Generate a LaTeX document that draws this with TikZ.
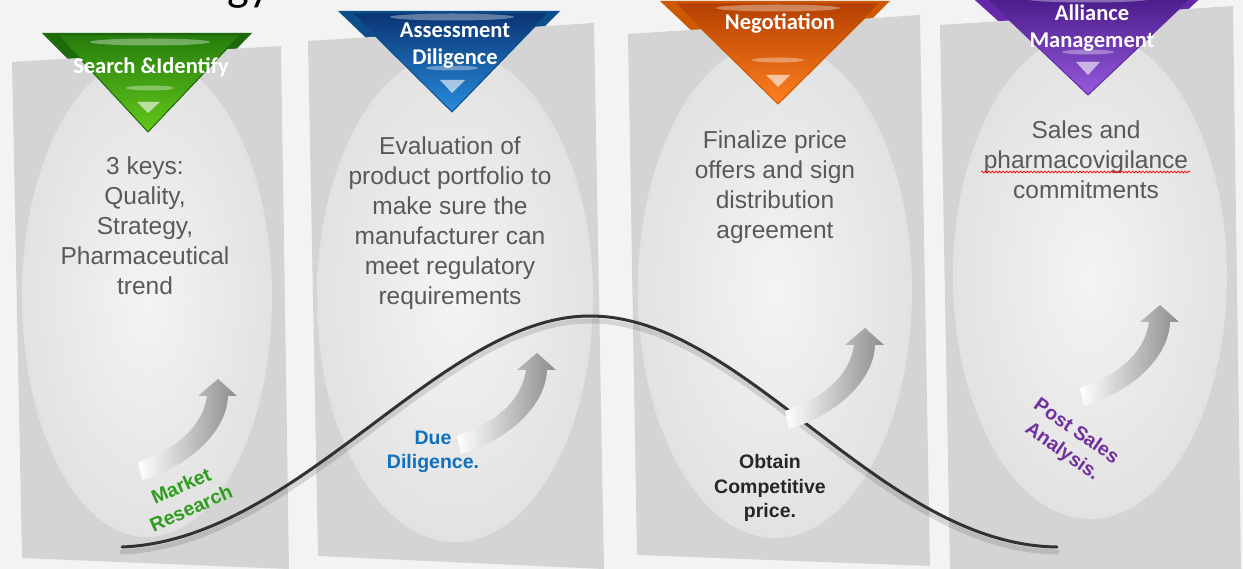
\documentclass[tikz,border=0pt]{standalone}
\usepackage{fontspec}
\setmainfont{Liberation Sans}
\newfontfamily\calib{Carlito}
\usetikzlibrary{decorations.pathmorphing}
\definecolor{bg}{RGB}{243,243,243}
\definecolor{panelc}{RGB}{212,212,212}
\definecolor{ellin}{RGB}{244,244,244}
\definecolor{ellout}{RGB}{226,226,226}
\definecolor{bodytxt}{RGB}{89,89,89}
\definecolor{gWing}{RGB}{30,105,10}
\definecolor{gTop}{RGB}{38,125,12}
\definecolor{gBot}{RGB}{100,200,28}
\definecolor{bWing}{RGB}{12,78,140}
\definecolor{bTop}{RGB}{10,52,115}
\definecolor{bBot}{RGB}{40,140,220}
\definecolor{oWing}{RGB}{205,88,0}
\definecolor{oTop}{RGB}{180,64,0}
\definecolor{oBot}{RGB}{255,128,30}
\definecolor{pWing}{RGB}{100,40,170}
\definecolor{pTop}{RGB}{72,26,135}
\definecolor{pBot}{RGB}{150,90,220}
\definecolor{lgreen}{RGB}{46,158,30}
\definecolor{lblue}{RGB}{16,112,192}
\definecolor{ldark}{RGB}{38,38,38}
\definecolor{lpurple}{RGB}{112,48,160}
\definecolor{curvec}{RGB}{50,50,50}
\tikzset{
  panelbox/.style={fill=panelc},
  ellbox/.style={inner color=ellin, outer color=ellout},
  bodytext/.style={text=bodytxt, align=center, inner sep=0pt, font=\fontsize{24.5}{30}\selectfont},
  headtext/.style={text=white, align=center, inner sep=0pt, font=\calib\bfseries\fontsize{22.5}{27}\selectfont},
  steplabel/.style={align=center, inner sep=0pt, font=\bfseries\fontsize{19.5}{24.5}\selectfont},
  hilite/.style={fill=white, opacity=0.35},
  smalltri/.style={fill=white, opacity=0.6},
  curvarrow/.pic={
    \shade[left color=white, right color=black!45]
      (-2,-9) .. controls (30,-20) and (62,-40) .. (67,-75) -- (58,-75) -- (78,-92)
      -- (97,-75) -- (88,-75) .. controls (87,-40) and (50,-5) .. (2,9) -- cycle;
  }
}
\begin{document}
\begin{tikzpicture}[x=1pt,y=-1pt]
\useasboundingbox (0,0) rectangle (1243,569);
\fill[bg] (0,0) rectangle (1243,569);

% fragment of a title above the frame
\begin{scope}
\clip (0,0) rectangle (1243,569);
\node[anchor=base, inner sep=0pt, font=\calib\fontsize{46}{46}\selectfont] (title) at (249,1) {gy};
\end{scope}

% back wings of the ribbons
\fill[gWing] (42,33) -- (252,33) -- (148,140) -- cycle;
\fill[bWing] (338,11) -- (560,11) -- (452,120) -- cycle;
\fill[oWing] (660,1) -- (890,1) -- (778,112) -- cycle;
\fill[pWing] (966,-8) -- (1207,-8) -- (1088,102) -- cycle;

% panels
\fill[panelbox] (12,62) -- (281,46) -- (289,569) -- (22,558) -- cycle;
\fill[panelbox] (308,41) -- (594,23) -- (604,569) -- (318,556) -- cycle;
\fill[panelbox] (628,34) -- (920,15) -- (930,566) -- (637,555) -- cycle;
\fill[panelbox] (940,25) -- (1233,6) -- (1241,569) -- (950,569) -- cycle;

% ellipses
\begin{scope}
\clip (12,62) -- (281,46) -- (289,569) -- (22,558) -- cycle;
\shade[ellbox] (147,297) ellipse [x radius=125pt, y radius=240pt];
\end{scope}
\begin{scope}
\clip (308,41) -- (594,23) -- (604,569) -- (318,556) -- cycle;
\shade[ellbox] (455,297) ellipse [x radius=138pt, y radius=245pt];
\end{scope}
\begin{scope}
\clip (628,34) -- (920,15) -- (930,566) -- (637,555) -- cycle;
\shade[ellbox] (775,290) ellipse [x radius=137pt, y radius=248pt];
\end{scope}
\begin{scope}
\clip (940,25) -- (1233,6) -- (1241,569) -- (950,569) -- cycle;
\shade[ellbox] (1090,276) ellipse [x radius=137pt, y radius=243pt];
\end{scope}

% front faces of the ribbons
\shade[top color=gTop, bottom color=gBot, draw=gWing, line width=1pt] (58,35) -- (240,35) -- (148,132) -- cycle;
\fill[hilite] (150,42) ellipse [x radius=60pt, y radius=3.5pt];
\fill[hilite] (150,88) ellipse [x radius=24pt, y radius=2.5pt];
\fill[smalltri] (137,102) -- (160,102) -- (148,113) -- cycle;

\shade[top color=bTop, bottom color=bBot, draw=bWing, line width=1pt] (352,13) -- (548,13) -- (452,112) -- cycle;
\fill[hilite] (452,17) ellipse [x radius=62pt, y radius=3.5pt];
\fill[hilite] (452,68) ellipse [x radius=26pt, y radius=2.5pt];
\fill[smalltri] (440,80) -- (465,80) -- (452,93) -- cycle;

\shade[top color=oTop, bottom color=oBot, draw=oWing, line width=1pt] (675,3) -- (880,3) -- (778,104) -- cycle;
\fill[hilite] (778,8) ellipse [x radius=62pt, y radius=3.5pt];
\fill[hilite] (778,60) ellipse [x radius=26pt, y radius=2.5pt];
\fill[smalltri] (766,75) -- (790,75) -- (778,87) -- cycle;

\shade[top color=pTop, bottom color=pBot, draw=pWing, line width=1pt] (982,-6) -- (1195,-6) -- (1088,95) -- cycle;
\fill[hilite] (1088,-1) ellipse [x radius=62pt, y radius=3.5pt];
\fill[hilite] (1088,52) ellipse [x radius=26pt, y radius=2.5pt];
\fill[smalltri] (1076,62) -- (1100,62) -- (1088,75) -- cycle;

% header labels
\node[headtext] (h1) at (151,67) {Search \&Identify};
\node[headtext] (h2) at (455,46) {Assessment\\Diligence};
\node[headtext] (h3) at (780,23) {Negotiation};
\node[headtext] (h4) at (1092,28) {Alliance\\Management};

% body texts
\node[bodytext] (b1) at (145,226) {3 keys:\\Quality,\\Strategy,\\Pharmaceutical\\trend};
\node[bodytext] (b2) at (450,223) {Evaluation of\\product portfolio to\\make sure the\\manufacturer can\\meet regulatory\\requirements};
\node[bodytext] (b3) at (775,187) {Finalize price\\offers and sign\\distribution\\agreement};
\node[bodytext] (b4) at (1086,160) {Sales and\\pharmacovigilance\\commitments};
\draw[red, line width=0.7pt, decorate, decoration={snake, amplitude=0.9pt, segment length=3.5pt}] (981,172) -- (1190,172);

% the bell curve
\draw[black, opacity=0.12, line width=5pt, line cap=round, shift={(0,5)}] (122,547) .. controls (300,540) and (440,316) .. (590,316) .. controls (745,316) and (880,545) .. (1057,547);
\draw[curvec, line width=3pt, line cap=round] (122,547) .. controls (300,540) and (440,316) .. (590,316) .. controls (745,316) and (880,545) .. (1057,547);

% curved arrows
\pic (a1) at (140,471) {curvarrow};
\pic (a2) at (459,445) {curvarrow};
\pic (a3) at (787,420) {curvarrow};
\pic (a4) at (1082,397) {curvarrow};

% step labels
\node[steplabel, text=lgreen, rotate=24] (l1) at (186,497) {Market\\Research};
\node[steplabel, text=lblue] (l2) at (433,452) {Due\\Diligence.};
\node[steplabel, text=ldark] (l3) at (770,488) {Obtain\\Competitive\\price.};
\node[steplabel, text=lpurple, rotate=-35] (l4) at (1069,442) {Post Sales\\Analysis.};
\end{tikzpicture}
\end{document}
